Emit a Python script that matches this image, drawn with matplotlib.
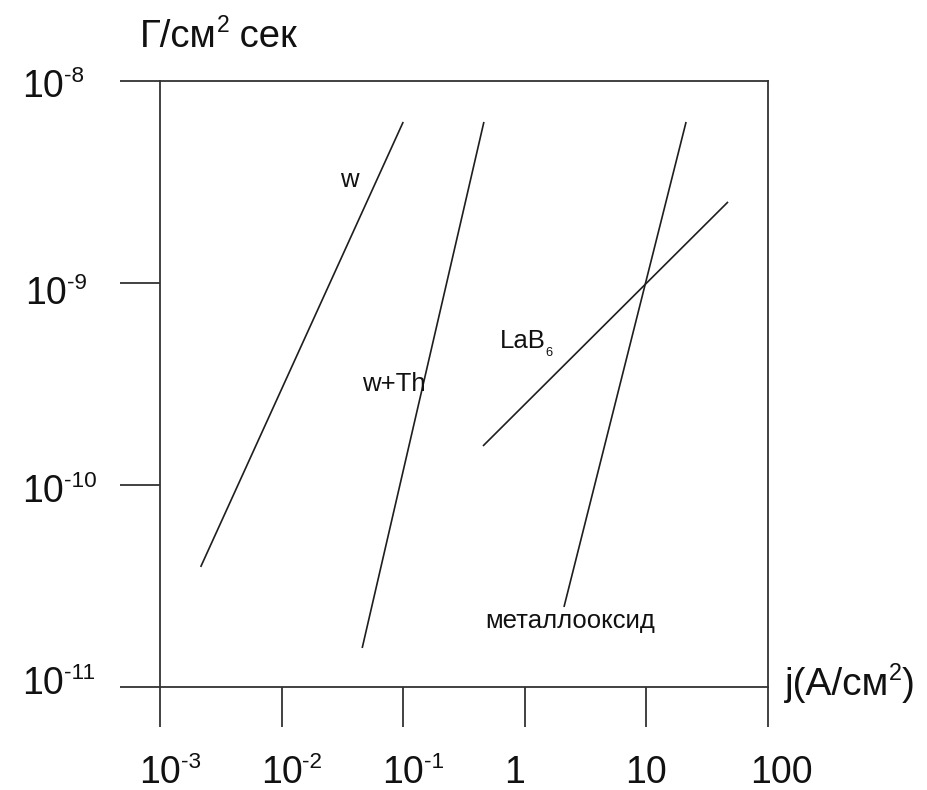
import matplotlib
matplotlib.use("Agg")
import matplotlib.pyplot as plt
from matplotlib.transforms import IdentityTransform

plt.rcParams['font.family'] = ['Liberation Sans', 'DejaVu Sans']

# Emission characteristics: current density j (A/cm^2) vs evaporation rate (g/cm^2 s)
j_w = [2.16e-3, 0.100]
g_w = [3.93e-11, 6.27e-9]
j_wth = [0.046, 0.461]
g_wth = [1.56e-11, 6.27e-9]
j_mox = [2.10, 21.2]
g_mox = [2.49e-11, 6.27e-9]
j_lab6 = [0.453, 46.9]
g_lab6 = [1.56e-10, 2.52e-9]

x_ticks = [1e-3, 1e-2, 1e-1, 1, 10, 100]
x_tick_base = ['10', '10', '10', '1', '10', '100']
x_tick_exp = ['-3', '-2', '-1', '', '', '']
y_ticks = [1e-8, 1e-9, 1e-10, 1e-11]
y_tick_base = ['10', '10', '10', '10']
y_tick_exp = ['-8', '-9', '-10', '-11']

INK = '#111111'
AXC = '#333333'

W, H, DPI = 927, 790, 100
fig = plt.figure(figsize=(W / DPI, H / DPI), dpi=DPI)
L, R, B, T = 160, 768, 687, 81
ax = fig.add_axes([L / W, 1 - B / H, (R - L) / W, (B - T) / H])
ax.set_xscale('log')
ax.set_yscale('log')
ax.set_xlim(1e-3, 100)
ax.set_ylim(1e-11, 1e-8)

for s in ax.spines.values():
    s.set_color(AXC)
    s.set_linewidth(1.3)

ax.set_xticks(x_ticks)
ax.set_yticks(y_ticks)
ax.minorticks_off()
ax.tick_params(axis='both', which='major', direction='out', length=29,
               width=1.3, color=AXC, labelbottom=False, labelleft=False)

for jj, gg in [(j_w, g_w), (j_wth, g_wth), (j_mox, g_mox), (j_lab6, g_lab6)]:
    ax.plot(jj, gg, color='#1e1e1e', lw=1.2, solid_capstyle='butt')

renderer = fig.canvas.get_renderer()


def rich(x_disp, y_disp, parts, size, ha='left'):
    """Draw text with super/subscripts; parts is a list of (text, kind)."""
    px = size * DPI / 72.0
    items = []
    for s, kind in parts:
        if not s:
            continue
        fs = size if kind == 'n' else size * (0.6 if kind == 'sup' else 0.5)
        t = fig.text(0, 0, s, fontsize=fs, transform=IdentityTransform(),
                     ha='left', va='baseline', color=INK)
        w = t.get_window_extent(renderer).width
        items.append((t, w, kind))
    total = sum(w for _, w, _ in items)
    if ha == 'center':
        x0 = x_disp - total / 2
    elif ha == 'right':
        x0 = x_disp - total
    else:
        x0 = x_disp
    for t, w, kind in items:
        dy = 0.0
        if kind == 'sup':
            dy = 0.39 * px
        elif kind == 'sub':
            dy = -0.3 * px
        t.set_position((x0, y_disp + dy))
        x0 += w


TICK_FS = 27
y_axis_bottom = H - B

# x tick labels: the "10" part sits centred on the tick
x_shift = [0, 0, 0, -10, 0, 13]
for xv, base, ex, sh in zip(x_ticks, x_tick_base, x_tick_exp, x_shift):
    xd, _ = ax.transData.transform((xv, 1e-11))
    yb = y_axis_bottom - 96
    if ex:
        t = fig.text(0, 0, base, fontsize=TICK_FS, transform=IdentityTransform())
        bw = t.get_window_extent(renderer).width
        t.remove()
        rich(xd - bw / 2 + sh, yb, [(base, 'n'), (ex, 'sup')], TICK_FS)
    else:
        rich(xd + sh, yb, [(base, 'n')], TICK_FS, ha='center')

# y tick labels
y_base_off = [16, 21, 17, 7]
y_left = [22, 25, 22, 22]
for yv, base, ex, off, lx in zip(y_ticks, y_tick_base, y_tick_exp, y_base_off, y_left):
    _, yd = ax.transData.transform((1e-3, yv))
    rich(lx, yd - off, [(base, 'n'), (ex, 'sup')], TICK_FS)

# axis titles
rich(140, H - 47, [('Г/см', 'n'), ('2', 'sup'), (' сек', 'n')], 27.5)
rich(785, H - 695, [('j(A/см', 'n'), ('2', 'sup'), (')', 'n')], 28)

# curve labels
ANN_FS = 18.5
for xv, yv, parts in [
    (0.0302, 2.99e-9, [('w', 'n')]),
    (0.0458, 2.92e-10, [('w+Th', 'n')]),
    (0.625, 4.76e-10, [('LaB', 'n'), ('6', 'sub')]),
    (0.471, 1.96e-11, [('металлооксид', 'n')]),
]:
    xd, yd = ax.transData.transform((xv, yv))
    rich(xd, yd, parts, ANN_FS)

fig.savefig('out.png', dpi=DPI)
